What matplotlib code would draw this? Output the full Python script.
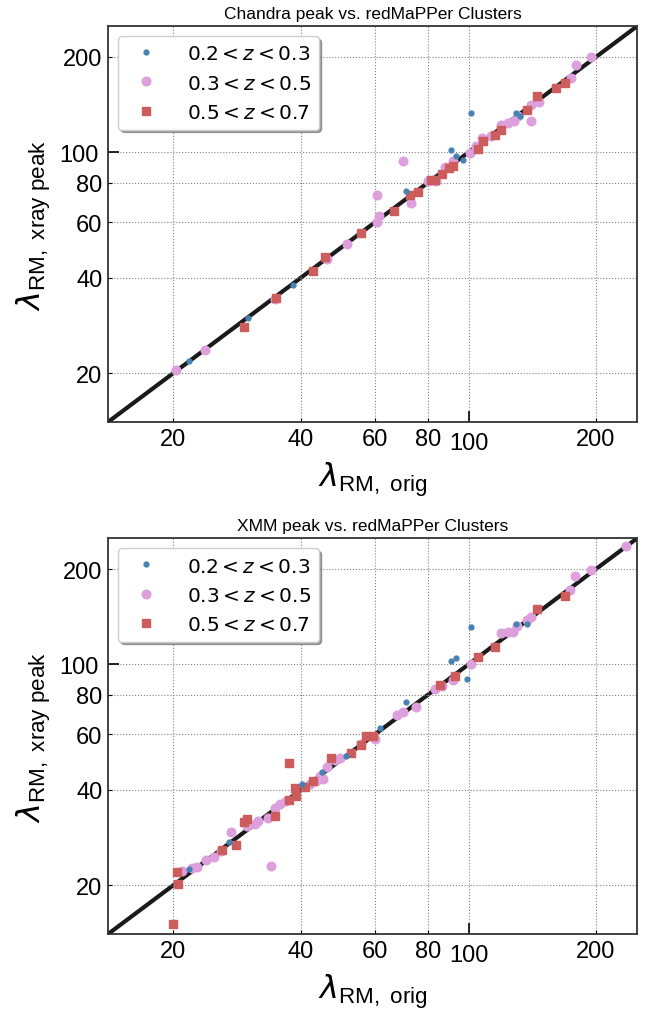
import matplotlib
matplotlib.use('Agg')
import matplotlib.pyplot as plt
import numpy as np

# font setup: Arial-like ticks, DejaVu mathtext
plt.rcParams['font.family'] = ['Liberation Sans', 'DejaVu Sans']
plt.rcParams['mathtext.fontset'] = 'dejavusans'

# ---------------- Chandra panel ----------------
ch_lo_orig = [21.8, 30.1, 38.4, 71.2, 91.0, 93.4, 96.9, 101.0, 129.0, 132.0]
ch_lo_peak = [21.9, 29.9, 38.1, 75.6, 101.6, 97.0, 94.3, 132.6, 132.6, 130.0]

ch_mid_orig = [20.3, 23.8, 34.7, 46.1, 51.6, 60.6, 61.3, 60.7, 70.0, 72.8, 80.0, 83.8,
               87.9, 92.0, 100.5, 104.0, 107.4, 113.0, 119.0, 124.0, 128.0, 131.0,
               140.0, 140.6, 147.0, 175.0, 179.0, 195.0]
ch_mid_peak = [20.4, 23.6, 34.2, 45.9, 51.1, 60.0, 62.6, 73.4, 93.8, 68.8, 81.0, 81.3,
               89.9, 93.8, 99.7, 104.6, 110.5, 112.6, 122.0, 124.0, 125.0, 130.0,
               125.0, 141.0, 144.0, 171.0, 188.0, 200.0]

ch_hi_orig = [29.4, 34.9, 42.7, 45.8, 55.7, 66.4, 72.4, 76.0, 81.6, 83.0, 86.6, 90.0,
              92.0, 105.0, 108.0, 115.6, 119.5, 137.0, 145.0, 161.0, 169.0]
ch_hi_peak = [27.9, 34.6, 42.2, 46.7, 55.3, 65.0, 73.0, 74.7, 81.6, 81.6, 85.0, 88.9,
              90.2, 102.6, 108.6, 113.2, 117.8, 136.0, 151.0, 159.0, 165.6]

# ---------------- XMM panel ----------------
xm_lo_orig = [21.8, 27.1, 40.4, 45.0, 51.2, 61.8, 71.2, 91.0, 93.4, 98.8, 101.0, 129.0, 137.0]
xm_lo_peak = [22.5, 27.3, 41.8, 45.6, 51.4, 62.6, 76.0, 102.6, 104.6, 89.5, 131.0, 134.0, 134.0]

xm_mid_orig = [20.9, 22.1, 22.8, 23.9, 24.9, 25.9, 27.4, 29.9, 31.2, 31.7, 33.4, 34.1,
               34.8, 35.8, 37.0, 42.1, 43.6, 45.2, 44.4, 46.3, 48.2, 49.6, 55.7, 60.0,
               67.6, 70.0, 75.0, 83.1, 86.5, 91.8, 101.0, 119.3, 124.0, 127.0, 130.0,
               137.0, 140.0, 174.0, 178.0, 195.0, 235.0]
xm_mid_peak = [22.2, 22.7, 22.8, 24.0, 24.5, 25.6, 29.4, 30.8, 31.2, 31.9, 32.7, 23.0,
               35.2, 36.1, 37.0, 41.8, 42.7, 43.4, 44.4, 47.3, 49.7, 50.4, 56.1, 58.0,
               69.0, 70.8, 73.2, 83.5, 85.3, 89.4, 100.0, 125.4, 126.0, 126.0, 132.0,
               137.6, 141.0, 172.0, 190.0, 198.6, 237.0]

xm_hi_orig = [20.0, 20.4, 20.5, 26.1, 28.1, 29.4, 29.9, 34.8, 37.5, 37.6, 38.8, 39.0,
              40.9, 42.7, 47.2, 52.7, 55.6, 57.2, 59.3, 85.4, 92.7, 105.3, 115.4, 145.0, 169.0]
xm_hi_peak = [15.1, 22.0, 20.2, 25.9, 26.8, 31.6, 32.3, 33.0, 37.1, 48.7, 40.5, 38.4,
              40.8, 42.8, 50.6, 52.2, 55.6, 59.2, 59.2, 85.9, 91.9, 105.6, 113.5, 149.9, 164.0]

labels = [r'$0.2 < z < 0.3$', r'$0.3 < z < 0.5$', r'$0.5 < z < 0.7$']
lims = (14, 250)
ticks_minor = [20, 40, 60, 80, 200]

fig = plt.figure(figsize=(6.49, 10.12), dpi=100)
ax1 = fig.add_axes([0.1664, 0.582, 0.815, 0.391])
ax2 = fig.add_axes([0.1664, 0.076, 0.815, 0.391])

panels = [
    (ax1, 'Chandra peak vs. redMaPPer Clusters',
     (ch_lo_orig, ch_lo_peak), (ch_mid_orig, ch_mid_peak), (ch_hi_orig, ch_hi_peak)),
    (ax2, 'XMM peak vs. redMaPPer Clusters',
     (xm_lo_orig, xm_lo_peak), (xm_mid_orig, xm_mid_peak), (xm_hi_orig, xm_hi_peak)),
]

for ax, title, lo, mid, hi in panels:
    ax.plot(lims, lims, color='#1a1a1a', lw=3, zorder=1)
    ax.plot(lo[0], lo[1], '.', color='#4682b4', ms=7, label=labels[0], zorder=3)
    ax.plot(mid[0], mid[1], 'o', color='plum', ms=6.2, label=labels[1], zorder=2)
    ax.plot(hi[0], hi[1], 's', color='indianred', ms=6.2, label=labels[2], zorder=2)

    ax.set_xscale('log')
    ax.set_yscale('log')
    ax.set_xlim(lims)
    ax.set_ylim(lims)

    # only 100 is a major tick, the rest are labelled minor ticks
    ax.set_xticks([100])
    ax.set_xticklabels(['100'])
    ax.set_yticks([100])
    ax.set_yticklabels(['100'])
    ax.set_xticks(ticks_minor, minor=True)
    ax.set_xticklabels([str(t) for t in ticks_minor], minor=True)
    ax.set_yticks(ticks_minor, minor=True)
    ax.set_yticklabels([str(t) for t in ticks_minor], minor=True)

    ax.tick_params(which='both', direction='in', labelsize=17)
    ax.tick_params(which='major', length=8, width=1.2, pad=7)
    ax.tick_params(which='minor', length=3, width=0.8, pad=4)
    ax.grid(which='both', ls=':', color='gray', lw=0.8)

    for s in ax.spines.values():
        s.set_linewidth(1.3)
        s.set_color('#333333')

    ax.set_title(title, fontsize=12.5)
    ax.set_xlabel(r'$\lambda_{\mathregular{RM,\;orig}}$', fontsize=23)
    ax.set_ylabel(r'$\lambda_{\mathregular{RM,\;xray\;peak}}$', fontsize=23)
    ax.legend(loc='upper left', fontsize=14.5, shadow=True, fancybox=True,
              framealpha=1, handletextpad=1.0, labelspacing=0.5, borderpad=0.4)

fig.savefig('out.png', dpi=100)
